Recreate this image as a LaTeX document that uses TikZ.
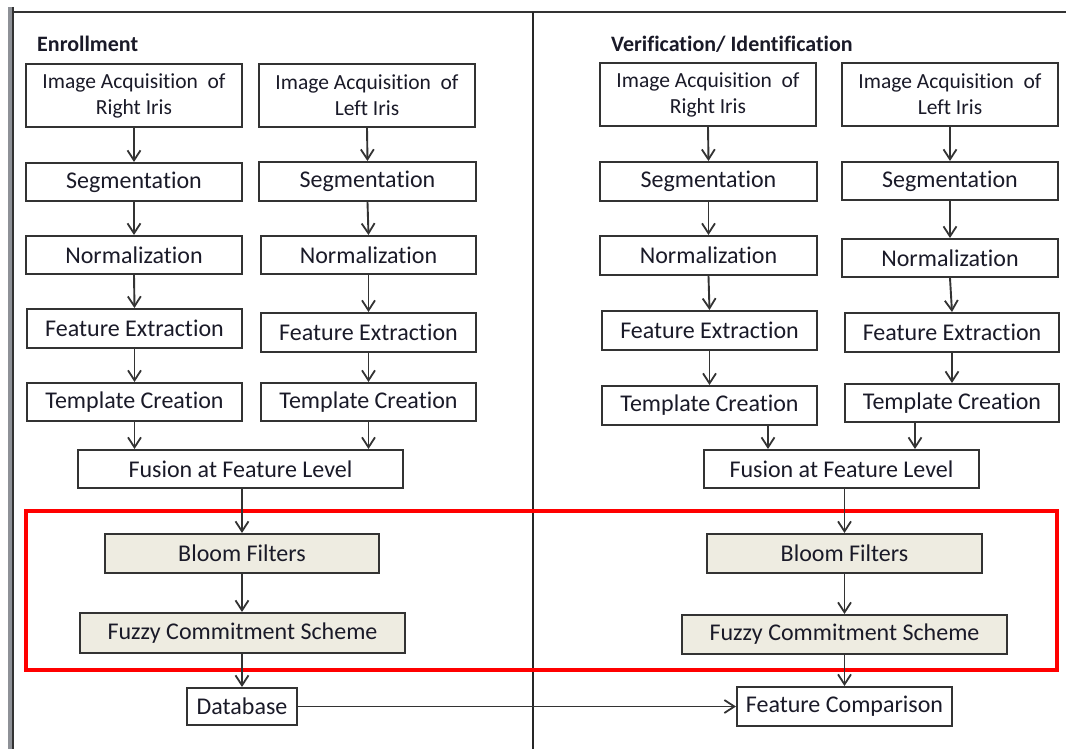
\documentclass[tikz,border=0pt]{standalone}
\usepackage{fontspec}
\setmainfont{Carlito}[Ligatures=NoCommon]
\usetikzlibrary{arrows.meta,calc}
\definecolor{boxline}{HTML}{333333}
\definecolor{tan}{HTML}{EEECE1}
\definecolor{txt}{HTML}{1A1A28}
\definecolor{barg}{HTML}{8E9197}
\tikzset{
  x=1pt, y=-1pt,
  stepbox/.style={draw=boxline, line width=2pt, fill=white, inner sep=0pt, text=txt,
    font=\fontsize{24}{26}\selectfont, align=center},
  acqbox/.style={stepbox, font=\fontsize{21.5}{26}\selectfont},
  tanbox/.style={stepbox, fill=tan},
  arr/.style={draw=boxline, line width=1.9pt, -{Straight Barb[length=10pt,width=13pt,line width=1.8pt]}},
  title/.style={anchor=west, font=\bfseries\fontsize{22}{26}\selectfont, text=txt, inner sep=0pt},
}
\newcommand{\bx}[7]{% style, name, x1, x2, y1, y2, text
  \node[#1, minimum width={#4-#3}, minimum height={#6-#5}] (#2) at ({(#3+#4)/2},{(#5+#6)/2}) {#7};}
\begin{document}
\begin{tikzpicture}
\useasboundingbox (0,0) rectangle (1066,749);
% frame
\fill[barg] (8,7) rectangle (14,749);
\draw[boxline, line width=1.4pt] (13,7) -- (13,749);
\draw[boxline, line width=2pt] (13,12) -- (1066,12);
\draw[black!85, line width=2pt] (533,12) -- (533,749);
% titles
\node[title] (t1) at (37,44) {Enrollment};
\node[title] (t2) at (611,44) {Verification/ Identification};
% red box
\draw[red, line width=3.4pt] (26,511) rectangle (1057,670);
% left side
\bx{acqbox}{iaR}{26}{242}{64}{127}{Image Acquisition\ \ of\\Right Iris}
\bx{acqbox}{iaL}{259}{475}{64}{127}{Image Acquisition\ \ of\\Left Iris}
\bx{stepbox}{segR}{26}{242}{163}{201}{Segmentation}
\bx{stepbox}{segL}{259}{476}{162}{201}{Segmentation}
\bx{stepbox}{normR}{26}{242}{236}{274}{Normalization}
\bx{stepbox}{normL}{261}{476}{236}{274}{Normalization}
\bx{stepbox}{feR}{27}{242}{309}{348}{Feature Extraction}
\bx{stepbox}{feL}{261}{476}{313}{352}{Feature Extraction}
\bx{stepbox}{tcR}{27}{242}{383}{421}{Template Creation}
\bx{stepbox}{tcL}{261}{476}{383}{421}{Template Creation}
\bx{stepbox}{fus}{78}{403}{450}{488}{Fusion at Feature Level}
\bx{tanbox}{bloom}{105}{379}{534}{573}{Bloom Filters}
\bx{tanbox}{fuzzy}{80}{405}{613}{653}{Fuzzy Commitment Scheme}
\bx{stepbox}{db}{187}{297}{688}{725}{Database}
% right side
\bx{acqbox}{iaR2}{600}{816}{63}{126}{Image Acquisition\ \ of\\Right Iris}
\bx{acqbox}{iaL2}{842}{1058}{63}{126}{Image Acquisition\ \ of\\Left Iris}
\bx{stepbox}{segR2}{600}{817}{162}{201}{Segmentation}
\bx{stepbox}{segL2}{842}{1058}{162}{200}{Segmentation}
\bx{stepbox}{normR2}{600}{817}{236}{275}{Normalization}
\bx{stepbox}{normL2}{842}{1058}{239}{277}{Normalization}
\bx{stepbox}{feR2}{602}{817}{311}{350}{Feature Extraction}
\bx{stepbox}{feL2}{845}{1059}{313}{352}{Feature Extraction}
\bx{stepbox}{tcR2}{602}{817}{386}{425}{Template Creation}
\bx{stepbox}{tcL2}{845}{1059}{384}{422}{Template Creation}
\bx{stepbox}{fus2}{704}{979}{450}{488}{Fusion at Feature Level}
\bx{tanbox}{bloom2}{707}{982}{534}{573}{Bloom Filters}
\bx{tanbox}{fuzzy2}{682}{1007}{615}{654}{Fuzzy Commitment Scheme}
\bx{stepbox}{fc}{737}{952}{687}{726}{Feature Comparison}
% arrows
\foreach \a/\b in {iaR/segR,segR/normR,normR/feR,feR/tcR,iaL/segL,segL/normL,normL/feL,feL/tcL,
                   iaR2/segR2,segR2/normR2,normR2/feR2,feR2/tcR2,iaL2/segL2,segL2/normL2,normL2/feL2,feL2/tcL2}
  \draw[arr] (\a.south) -- (\b.north);
\draw[arr] (tcR.south) -- (tcR.south |- fus.north);
\draw[arr] (tcL.south) -- (tcL.south |- fus.north);
\draw[arr] ([xshift=58.5pt]tcR2.south) -- ([xshift=58.5pt]tcR2.south |- fus2.north);
\draw[arr] ([xshift=-37pt]tcL2.south) -- ([xshift=-37pt]tcL2.south |- fus2.north);
\draw[arr] (bloom.north |- fus.south) -- (bloom.north);
\draw[arr] (bloom.south) -- (fuzzy.north -| bloom.south);
\draw[arr] (db.north |- fuzzy.south) -- (db.north);
\draw[arr] (bloom2.north |- fus2.south) -- (bloom2.north);
\draw[arr] (bloom2.south) -- (fuzzy2.north -| bloom2.south);
\draw[arr] (fc.north |- fuzzy2.south) -- (fc.north);
\draw[arr] (db.east) -- (fc.west);
\end{tikzpicture}
\end{document}
